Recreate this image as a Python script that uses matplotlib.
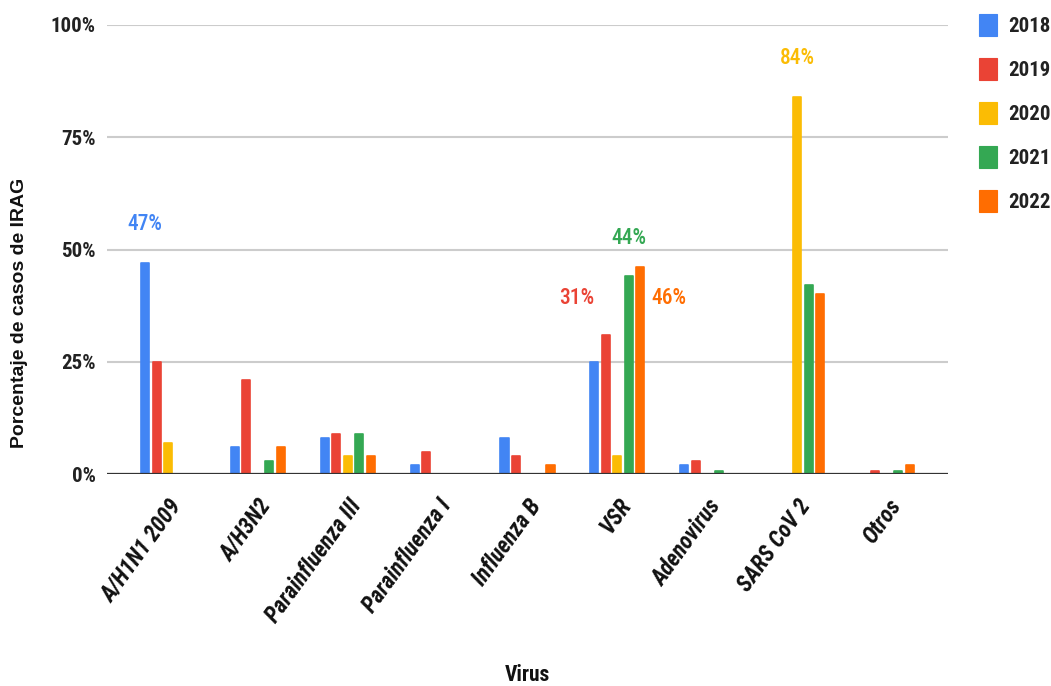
import matplotlib
matplotlib.use("Agg")
import matplotlib.pyplot as plt
from matplotlib.patches import Patch
import numpy as np

viruses = ["A/H1N1 2009", "A/H3N2", "Parainfluenza III", "Parainfluenza I",
           "Influenza B", "VSR", "Adenovirus", "SARS CoV 2", "Otros"]
years = ["2018", "2019", "2020", "2021", "2022"]

pct_2018 = [47, 6, 8, 2, 8, 25, 2, 0, 0]
pct_2019 = [25, 21, 9, 5, 4, 31, 3, 0, 0.7]
pct_2020 = [7, 0, 4, 0, 0, 4, 0, 84, 0]
pct_2021 = [0, 3, 9, 0, 0, 44, 0.7, 42, 0.7]
pct_2022 = [0, 6, 4, 0, 2, 46, 0, 40, 2]
series = [pct_2018, pct_2019, pct_2020, pct_2021, pct_2022]

colors = ["#4285F4", "#EA4335", "#FBBC04", "#34A853", "#FF6D01"]

# Highlighted values: (virus index, year index, placement)
callouts = [(0, 0, "top"), (7, 2, "top"), (5, 3, "top"), (5, 1, "left"), (5, 4, "right")]

COND = ["Roboto Condensed", "DejaVu Sans"]

fig = plt.figure(figsize=(10.51, 6.86), dpi=100)
ax = fig.add_axes([107 / 1051, 1 - 474 / 686, (948 - 107) / 1051, (474 - 25) / 686])

x = np.arange(len(viruses))
step = 0.128
width = 0.09
for i, (vals, c) in enumerate(zip(series, colors)):
    offs = (i - 2) * step
    v = np.array(vals, dtype=float)
    mask = v > 0
    ax.bar(x[mask] + offs, v[mask], width=width, color=c, edgecolor=c,
           linewidth=1.2, joinstyle="round", zorder=3)

for vi, yi, place in callouts:
    val = series[yi][vi]
    bx = x[vi] + (yi - 2) * step
    label = f"{val:g}%"
    if place == "top":
        ax.annotate(label, (bx, val), xytext=(0, 28), textcoords="offset points",
                    ha="center", va="center", color=colors[yi], fontsize=15.5,
                    family=COND, fontweight="medium", zorder=4)
    else:
        # side labels share one height beside the group
        ylev = 39.3
        dx = -8 if place == "left" else 8
        ax.annotate(label, (bx, ylev), xytext=(dx, 0), textcoords="offset points",
                    ha="right" if place == "left" else "left", va="center",
                    color=colors[yi], fontsize=15.5, family=COND,
                    fontweight="medium", zorder=4)

ax.set_xlim(-0.68, len(viruses) - 1 + 0.68)
ax.set_ylim(0, 100)
ax.set_yticks([0, 25, 50, 75, 100])
ax.set_yticklabels(["0%", "25%", "50%", "75%", "100%"], family=COND,
                   fontweight="bold", fontsize=15, color="#222222")
ax.tick_params(axis="y", length=0, pad=8)
ax.yaxis.grid(True, color="#cccccc", linewidth=1.5, zorder=0)
ax.set_axisbelow(True)
for s in ["top", "right", "left", "bottom"]:
    ax.spines[s].set_visible(False)
ax.axhline(0, color="#333333", linewidth=1.6, zorder=5)

ax.set_xticks(x)
ax.set_xticklabels(viruses, rotation=54, ha="right", rotation_mode="anchor",
                   family=COND, fontweight="bold", fontstyle="italic",
                   fontsize=16.5, color="#111111")
ax.tick_params(axis="x", length=0, pad=15)

fig.text(20 / 1051, 1 - 313 / 686, "Porcentaje de casos de IRAG", rotation=90,
         ha="center", va="center", family=["Liberation Sans", "DejaVu Sans"],
         fontweight="bold", fontsize=14, color="#111111")
fig.text(527 / 1051, 1 - 675 / 686, "Virus", ha="center", va="center",
         family=COND, fontweight="bold", fontsize=15.5, color="#111111")

handles = [Patch(facecolor=c, edgecolor=c, linewidth=0.8, joinstyle="round") for c in colors]
leg = fig.legend(handles, years, loc="upper left", bbox_to_anchor=(979 / 1051, 1 - 14 / 686),
                 frameon=False, handlelength=0.85, handleheight=1.25, handletextpad=0.55,
                 labelspacing=1.05, borderaxespad=0, borderpad=0,
                 prop={"family": COND, "weight": "bold", "size": 15})
for t in leg.get_texts():
    t.set_color("#222222")

fig.savefig("out.png", dpi=100)
